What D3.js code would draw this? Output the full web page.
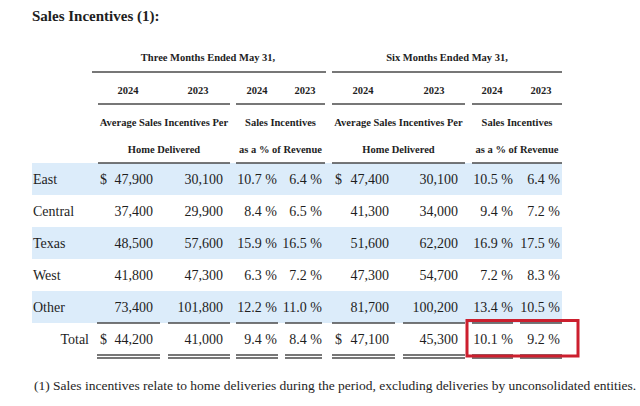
<!DOCTYPE html>
<html>
<head>
<meta charset="utf-8">
<script src="https://cdn.jsdelivr.net/npm/d3@7"></script>
<style>
  body { margin: 0; background: #fff; }
  text { font-family: "Liberation Serif", "DejaVu Serif", serif; fill: #1e1e1e; }
</style>
</head>
<body>
<div id="chart"></div>
<script>
// Table data
const regions = ["East", "Central", "Texas", "West", "Other"];
const totalLabel = "Total";
const periods = ["Three Months Ended May 31,", "Six Months Ended May 31,"];
const years = ["2024", "2023"];

const avg3m2024 = [47900, 37400, 48500, 41800, 73400];
const avg3m2023 = [30100, 29900, 57600, 47300, 101800];
const pct3m2024 = [10.7, 8.4, 15.9, 6.3, 12.2];
const pct3m2023 = [6.4, 6.5, 16.5, 7.2, 11.0];
const avg6m2024 = [47400, 41300, 51600, 47300, 81700];
const avg6m2023 = [30100, 34000, 62200, 54700, 100200];
const pct6m2024 = [10.5, 9.4, 16.9, 7.2, 13.4];
const pct6m2023 = [6.4, 7.2, 17.5, 8.3, 10.5];

const totalAvg3m = [44200, 41000];
const totalPct3m = [9.4, 8.4];
const totalAvg6m = [47100, 45300];
const totalPct6m = [10.1, 9.2];

const footnote = "(1) Sales incentives relate to home deliveries during the period, excluding deliveries by unconsolidated entities.";

const width = 640, height = 406;
const svg = d3.select("#chart").append("svg")
    .attr("width", width)
    .attr("height", height);

// Rows
const rowNames = [...regions, totalLabel];
const y = d3.scaleBand()
    .domain(rowNames)
    .range([163, 355]);

// Columns: [left, right] extents of each column
const cols = [
    [97, 160], [168, 230], [236, 278], [285, 322],
    [332, 395], [403, 465], [472, 513], [520, 562]
];
const valueRight = [153, 223, 277, 322, 389, 458, 513, 560];

// Striped background
svg.selectAll(".band")
    .data(regions.filter((d, i) => i % 2 === 0))
    .enter().append("rect")
    .attr("class", "band")
    .attr("x", 32)
    .attr("y", d => y(d))
    .attr("width", 530)
    .attr("height", y.bandwidth())
    .attr("fill", "#dcecfa");

// Title
svg.append("text")
    .attr("x", 32).attr("y", 21)
    .attr("font-size", 15).attr("font-weight", "bold")
    .text("Sales Incentives (1):");

// Period headers
const periodSpan = [[92, 326], [332, 562]];
periods.forEach((p, i) => {
    const [a, b] = periodSpan[i];
    svg.append("text")
        .attr("x", (a + b) / 2 + (i === 0 ? -1 : 0)).attr("y", 61)
        .attr("text-anchor", "middle")
        .attr("font-size", 10.5).attr("font-weight", "bold")
        .text(p);
    svg.append("line")
        .attr("x1", a).attr("x2", b).attr("y1", 72).attr("y2", 72)
        .attr("stroke", "#4a4a4a").attr("stroke-width", 1.6);
});

// Year headers
const yearCenters = [128, 198, 257, 305, 363, 434, 492, 541];
yearCenters.forEach((cx, i) => {
    svg.append("text")
        .attr("x", cx).attr("y", 94)
        .attr("text-anchor", "middle")
        .attr("font-size", 10.5).attr("font-weight", "bold")
        .text(years[i % 2]);
});

// Group spans (avg / pct)
const groupSpan = [[98, 230], [236, 325], [332, 465], [472, 562]];
const groupLines = [
    ["Average Sales Incentives Per", "Home Delivered"],
    ["Sales Incentives", "as a % of Revenue"]
];
groupSpan.forEach(([a, b], i) => {
    [104, 163].forEach(ly => {
        svg.append("line")
            .attr("x1", a).attr("x2", b).attr("y1", ly).attr("y2", ly)
            .attr("stroke", "#4a4a4a").attr("stroke-width", 1.6);
    });
    groupLines[i % 2].forEach((t, j) => {
        svg.append("text")
            .attr("x", (a + b) / 2).attr("y", 125.5 + j * 27)
            .attr("text-anchor", "middle")
            .attr("font-size", 10.5).attr("font-weight", "bold")
            .text(t);
    });
});

// Body values
const fmtNum = d3.format(",");
const fmtPct = d => d3.format(".1f")(d) + " %";
const series = [avg3m2024, avg3m2023, pct3m2024, pct3m2023, avg6m2024, avg6m2023, pct6m2024, pct6m2023];
const totals = [totalAvg3m[0], totalAvg3m[1], totalPct3m[0], totalPct3m[1],
                totalAvg6m[0], totalAvg6m[1], totalPct6m[0], totalPct6m[1]];
const isPct = [false, false, true, true, false, false, true, true];

const baseline = name => y(name) + y.bandwidth() / 2 + 5;

// Row labels
svg.selectAll(".rowlabel")
    .data(regions)
    .enter().append("text")
    .attr("x", 33)
    .attr("y", d => baseline(d))
    .attr("font-size", 14)
    .text(d => d);
svg.append("text")
    .attr("x", 89).attr("y", baseline(totalLabel))
    .attr("text-anchor", "end")
    .attr("font-size", 14)
    .text(totalLabel);

series.forEach((vals, c) => {
    const fmt = isPct[c] ? fmtPct : fmtNum;
    svg.selectAll(".c" + c)
        .data(vals.concat([totals[c]]))
        .enter().append("text")
        .attr("class", "c" + c)
        .attr("x", valueRight[c])
        .attr("y", (d, i) => baseline(rowNames[i]))
        .attr("text-anchor", "end")
        .attr("font-size", 14)
        .text(d => fmt(d));
});

// Dollar signs on first and total rows
[0, 4].forEach(c => {
    [regions[0], totalLabel].forEach(r => {
        svg.append("text")
            .attr("x", c === 0 ? 100 : 335)
            .attr("y", baseline(r))
            .attr("font-size", 14)
            .text("$");
    });
});

// Rules above and below totals
cols.forEach(([a, b]) => {
    const top = y(totalLabel);
    const bot = y(totalLabel) + y.bandwidth();
    [top, bot, bot + 3].forEach(ly => {
        svg.append("line")
            .attr("x1", a).attr("x2", b).attr("y1", ly).attr("y2", ly)
            .attr("stroke", "#4a4a4a").attr("stroke-width", 1.4);
    });
});

// Red highlight box around six-month total percentages
svg.append("rect")
    .attr("x", cols[6][0] - 5)
    .attr("y", y(totalLabel) - 2.5)
    .attr("width", cols[7][1] + 16 - (cols[6][0] - 5))
    .attr("height", y.bandwidth() + 3.5)
    .attr("fill", "none")
    .attr("stroke", "#cc1f2e")
    .attr("stroke-width", 3);

// Footnote
svg.append("text")
    .attr("x", 34).attr("y", 390)
    .attr("font-size", 13.5)
    .text(footnote);
</script>
</body>
</html>
